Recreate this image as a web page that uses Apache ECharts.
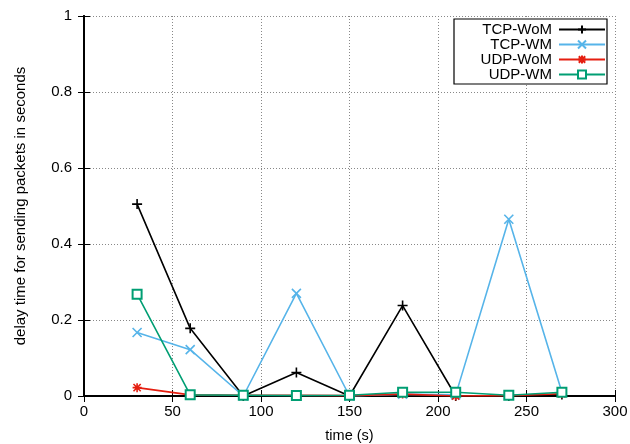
<!DOCTYPE html>
<html>
<head>
<meta charset="utf-8">
<script src="https://cdn.jsdelivr.net/npm/echarts@6/dist/echarts.min.js"></script>
<style>
  html, body { margin: 0; padding: 0; background: #fff; }
  #chart { width: 630px; height: 444px; }
</style>
</head>
<body>
<div id="chart"></div>
<script>
// time in seconds
var times = [30, 60, 90, 120, 150, 180, 210, 240, 270];
var tcpWoM = [0.505, 0.178, 0.0, 0.062, 0.0, 0.238, 0.0, 0.0, 0.004];
var tcpWM = [0.167, 0.122, 0.0, 0.27, 0.0, 0.005, 0.003, 0.465, 0.01];
var udpWoM = [0.022, 0.003, 0.002, 0.002, 0.001, 0.005, 0.0, 0.001, 0.006];
var udpWM = [0.268, 0.003, 0.002, 0.001, 0.002, 0.01, 0.01, 0.002, 0.01];
var seriesNames = ["TCP-WoM", "TCP-WM", "UDP-WoM", "UDP-WM"];

var FONT = "Liberation Sans";

function pairs(vals) {
  return times.map(function (t, i) { return [t, vals[i]]; });
}

// symbols drawn as stroked paths
var plusSym = "path://M0,5L10,5M5,0L5,10";
var crossSym = "path://M0,0L10,10M10,0L0,10";
var starSym = "path://M0,5L10,5M5,0L5,10M1,1L9,9M9,1L1,9";

function mkSeries(name, vals, color, symbol, size) {
  return {
    name: name,
    type: "line",
    data: pairs(vals),
    symbol: symbol,
    symbolSize: size,
    showAllSymbol: true,
    lineStyle: { color: color, width: 1.6 },
    itemStyle: { color: color, borderColor: color, borderWidth: 1.6 },
    emphasis: { disabled: true },
    z: 3
  };
}

var chart = echarts.init(document.getElementById("chart"));

var legendTops = [22, 37, 52, 67];
var legends = seriesNames.map(function (n, i) {
  return {
    data: [n],
    right: 24,
    top: legendTops[i],
    align: "right",
    itemWidth: 46,
    itemHeight: 10,
    itemGap: 0,
    padding: 0,
    selectedMode: false,
    textStyle: { fontFamily: FONT, fontSize: 15, color: "#000", padding: [0, 2, 0, 0] }
  };
});

chart.setOption({
  animation: false,
  backgroundColor: "#fff",
  grid: { left: 84, right: 15, top: 16, bottom: 48, outerBoundsMode: "none" },
  legend: legends,
  graphic: [{
    type: "rect",
    shape: { x: 454, y: 19, width: 153, height: 65 },
    style: { fill: "#fff", stroke: "#000", lineWidth: 1.2 },
    z: 4
  }],
  xAxis: [{
    type: "value",
    min: 0, max: 300, interval: 50,
    name: "time (s)",
    nameLocation: "middle",
    nameGap: 32,
    nameTextStyle: { fontFamily: FONT, fontSize: 14.5, color: "#000" },
    axisLine: { lineStyle: { color: "#000", width: 2 } },
    axisTick: { inside: true, length: 6, lineStyle: { color: "#000", width: 1 } },
    axisLabel: { fontFamily: FONT, fontSize: 15, color: "#000", margin: 8 },
    splitLine: { show: true, lineStyle: { color: "#888", type: [1, 2], width: 1 } }
  }, {
    type: "value",
    position: "top",
    min: 0, max: 300, interval: 50,
    axisLine: { show: true, lineStyle: { color: "#000", width: 2 } },
    axisTick: { show: true, inside: true, length: 6, lineStyle: { color: "#000", width: 1 } },
    axisLabel: { show: false },
    splitLine: { show: false }
  }],
  yAxis: [{
    type: "value",
    min: 0, max: 1, interval: 0.2,
    name: "delay time for sending packets in seconds",
    nameLocation: "middle",
    nameGap: 56,
    nameTextStyle: { fontFamily: FONT, fontSize: 15, color: "#000" },
    axisLine: { show: true, lineStyle: { color: "#000", width: 2 } },
    axisTick: { show: true, inside: true, length: 6, lineStyle: { color: "#000", width: 1 } },
    axisLabel: { fontFamily: FONT, fontSize: 15, color: "#000", margin: 12 },
    splitLine: { show: true, lineStyle: { color: "#888", type: [1, 2], width: 1 } }
  }, {
    type: "value",
    position: "right",
    min: 0, max: 1, interval: 0.2,
    axisLine: { show: true, lineStyle: { color: "#000", width: 2 } },
    axisTick: { show: true, inside: true, length: 6, lineStyle: { color: "#000", width: 1 } },
    axisLabel: { show: false },
    splitLine: { show: false }
  }],
  series: [
    mkSeries("TCP-WoM", tcpWoM, "#000000", plusSym, 10),
    mkSeries("TCP-WM", tcpWM, "#56b4e9", crossSym, 9),
    mkSeries("UDP-WoM", udpWoM, "#e51e10", starSym, 9),
    mkSeries("UDP-WM", udpWM, "#009e73", "emptyRect", 9)
  ]
});
</script>
</body>
</html>
